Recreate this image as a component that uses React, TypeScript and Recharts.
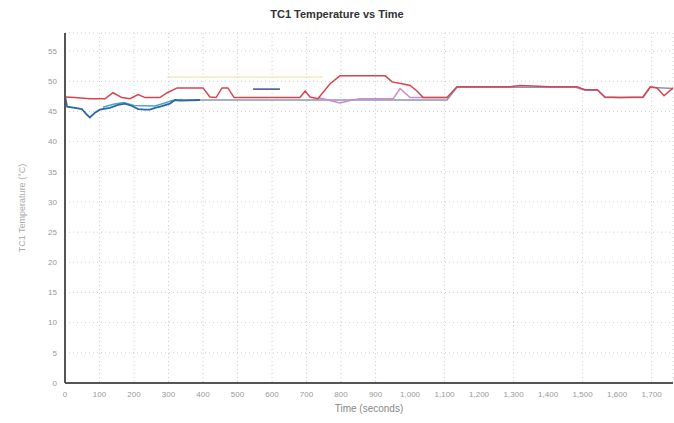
import { CartesianGrid, Label, Line, LineChart, XAxis, YAxis } from "recharts";

type Pt = { t: number; v: number };

const X_TICKS = [0, 100, 200, 300, 400, 500, 600, 700, 800, 900, 1000, 1100, 1200, 1300, 1400, 1500, 1600, 1700];
const Y_TICKS = [0, 5, 10, 15, 20, 25, 30, 35, 40, 45, 50, 55];

const redSeries: Pt[] = [
  { t: 0, v: 47.4 }, { t: 29, v: 47.3 }, { t: 72, v: 47.1 }, { t: 116, v: 47.1 }, { t: 139, v: 48.1 },
  { t: 165, v: 47.3 }, { t: 188, v: 47.1 }, { t: 212, v: 47.8 }, { t: 232, v: 47.3 }, { t: 275, v: 47.3 },
  { t: 296, v: 48.1 }, { t: 325, v: 48.9 }, { t: 400, v: 48.9 }, { t: 420, v: 47.4 }, { t: 438, v: 47.3 },
  { t: 455, v: 48.9 }, { t: 472, v: 48.9 }, { t: 490, v: 47.3 }, { t: 681, v: 47.3 }, { t: 696, v: 48.4 },
  { t: 710, v: 47.4 }, { t: 733, v: 47.1 }, { t: 768, v: 49.6 }, { t: 797, v: 50.9 }, { t: 928, v: 50.9 },
  { t: 948, v: 49.9 }, { t: 977, v: 49.6 }, { t: 1000, v: 49.3 }, { t: 1020, v: 48.4 }, { t: 1038, v: 47.3 },
  { t: 1107, v: 47.3 }, { t: 1136, v: 49.1 }, { t: 1290, v: 49.1 }, { t: 1319, v: 49.3 }, { t: 1406, v: 49.1 },
  { t: 1484, v: 49.1 }, { t: 1507, v: 48.6 }, { t: 1542, v: 48.6 }, { t: 1565, v: 47.4 }, { t: 1609, v: 47.3 },
  { t: 1675, v: 47.4 }, { t: 1696, v: 49.1 }, { t: 1716, v: 48.9 }, { t: 1736, v: 47.6 }, { t: 1762, v: 48.9 },
];

const pinkSeries: Pt[] = [
  { t: 733, v: 47.3 }, { t: 768, v: 46.8 }, { t: 797, v: 46.4 }, { t: 826, v: 46.8 }, { t: 855, v: 47.1 },
  { t: 951, v: 47.1 }, { t: 971, v: 48.8 }, { t: 1000, v: 47.3 }, { t: 1107, v: 47.3 },
];

const blueSeries: Pt[] = [
  { t: 0, v: 47.6 }, { t: 6, v: 45.8 }, { t: 29, v: 45.6 }, { t: 49, v: 45.4 }, { t: 61, v: 44.6 },
  { t: 72, v: 44.0 }, { t: 87, v: 44.8 }, { t: 101, v: 45.3 }, { t: 130, v: 45.6 }, { t: 154, v: 46.1 },
  { t: 174, v: 46.3 }, { t: 194, v: 45.9 }, { t: 212, v: 45.4 }, { t: 232, v: 45.3 }, { t: 246, v: 45.3 },
  { t: 261, v: 45.6 }, { t: 281, v: 45.9 }, { t: 304, v: 46.3 }, { t: 319, v: 46.9 }, { t: 333, v: 46.8 },
  { t: 391, v: 46.9 },
];

const tealSeries: Pt[] = [
  { t: 110, v: 45.7 }, { t: 140, v: 46.2 }, { t: 170, v: 46.5 }, { t: 200, v: 46.0 }, { t: 260, v: 45.9 },
  { t: 290, v: 46.4 }, { t: 310, v: 46.8 }, { t: 340, v: 47.0 },
];

const greySeries: Pt[] = [
  { t: 333, v: 46.9 }, { t: 500, v: 46.9 }, { t: 545, v: 46.9 }, { t: 700, v: 46.9 }, { t: 900, v: 46.9 },
  { t: 1107, v: 46.9 }, { t: 1136, v: 49.0 }, { t: 1300, v: 49.0 }, { t: 1480, v: 49.0 }, { t: 1507, v: 48.5 },
  { t: 1545, v: 48.5 }, { t: 1565, v: 47.3 }, { t: 1675, v: 47.3 }, { t: 1696, v: 49.0 }, { t: 1762, v: 48.8 },
];

const navySeries: Pt[] = [
  { t: 545, v: 48.7 }, { t: 623, v: 48.7 },
];

const yellowSeries: Pt[] = [
  { t: 296, v: 50.7 }, { t: 748, v: 50.7 },
];

const fmt = (n: number) => n.toLocaleString("en-US");

export default function App() {
  return (
    <div style={{ position: "absolute", left: 0, top: 0, width: 674, height: 423, background: "#fff", fontFamily: "Arial, 'Liberation Sans', sans-serif" }}>
      <div style={{ position: "absolute", top: 8, left: 0, width: 674, textAlign: "center", fontSize: 11, fontWeight: "bold", color: "#333" }}>
        TC1 Temperature vs Time
      </div>
      <LineChart width={674} height={423} margin={{ top: 33, right: 1, bottom: 20, left: 0 }}>
        <CartesianGrid stroke="#d0d0d0" strokeDasharray="1 3" />
        <XAxis
          type="number"
          dataKey="t"
          domain={[0, 1762]}
          ticks={X_TICKS}
          tickFormatter={fmt}
          height={20}
          tick={{ fontSize: 8, fill: "#999" }}
          tickLine={false}
          axisLine={{ stroke: "#555", strokeWidth: 2 }}
          allowDuplicatedCategory={false}
        >
          <Label value="Time (seconds)" position="bottom" offset={2} style={{ fontSize: 10, fill: "#888" }} />
        </XAxis>
        <YAxis
          type="number"
          domain={[0, 58]}
          ticks={Y_TICKS}
          width={65}
          tick={{ fontSize: 8, fill: "#999" }}
          tickLine={false}
          axisLine={{ stroke: "#555", strokeWidth: 2 }}
        >
          <Label value="TC1 Temperature (°C)" angle={-90} position="insideLeft" offset={22} style={{ fontSize: 9, fill: "#aaa", textAnchor: "middle" }} />
        </YAxis>
        <Line data={yellowSeries} dataKey="v" stroke="#e9e2a8" strokeWidth={1} dot={false} isAnimationActive={false} />
        <Line data={greySeries} dataKey="v" stroke="#8a98b0" strokeWidth={1.5} dot={false} isAnimationActive={false} />
        <Line data={tealSeries} dataKey="v" stroke="#4aa8c8" strokeWidth={1.5} dot={false} isAnimationActive={false} />
        <Line data={blueSeries} dataKey="v" stroke="#2f66a4" strokeWidth={1.8} dot={false} isAnimationActive={false} />
        <Line data={navySeries} dataKey="v" stroke="#3c4f90" strokeWidth={1.5} dot={false} isAnimationActive={false} />
        <Line data={pinkSeries} dataKey="v" stroke="#c98ccc" strokeWidth={1.5} dot={false} isAnimationActive={false} />
        <Line data={redSeries} dataKey="v" stroke="#d8434f" strokeWidth={1.5} dot={false} isAnimationActive={false} />
      </LineChart>
    </div>
  );
}
